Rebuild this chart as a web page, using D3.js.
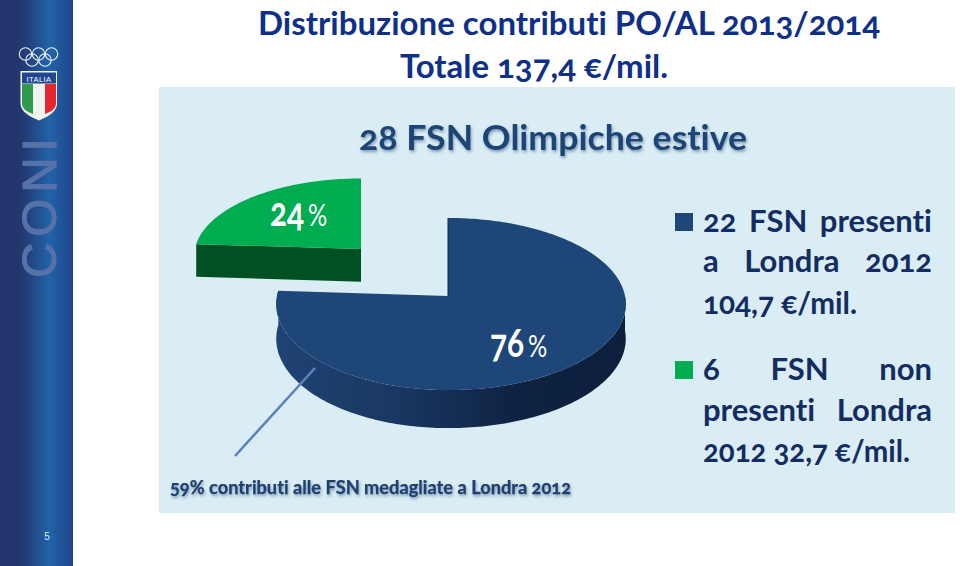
<!DOCTYPE html>
<html>
<head>
<meta charset="utf-8">
<script src="https://cdnjs.cloudflare.com/ajax/libs/d3/7.8.5/d3.min.js"></script>
<style>
html, body { margin: 0; padding: 0; background: #fff; }
svg { display: block; }
text { font-family: Lato, "Open Sans", sans-serif; font-variant-numeric: oldstyle-nums; font-feature-settings: "onum", "liga" 0, "clig" 0; font-variant-ligatures: none; }
</style>
</head>
<body>
<script>
// data
var sliceNames = ["22 FSN presenti", "6 FSN non presenti"];
var sliceValues = [76, 24];
var sliceLabels = ["76", "24"];
var titleLines = ["Distribuzione contributi PO/AL 2013/2014", "Totale 137,4 €/mil."];
var subtitle = "28 FSN Olimpiche estive";
var note = "59% contributi alle FSN medagliate a Londra 2012";
var legendBlue = [["22", "FSN", "presenti"], ["a", "Londra", "2012"], ["104,7 €/mil."]];
var legendGreen = [["6", "FSN", "non"], ["presenti", "Londra"], ["2012 32,7 €/mil."]];

var width = 960, height = 566;
var svg = d3.select("body").append("svg").attr("width", width).attr("height", height);
var defs = svg.append("defs");

function gradient(id, stops) {
    var g = defs.append("linearGradient").attr("id", id)
        .attr("x1", 0).attr("x2", 1).attr("y1", 0).attr("y2", 0);
    stops.forEach((s) => {
        g.append("stop").attr("offset", s[0]).attr("stop-color", s[1]);
    });
}
gradient("side", [[0, "#23346a"], [0.3, "#23386f"], [0.68, "#2163a8"], [1, "#214489"]]);
gradient("wall", [[0, "#1f4374"], [0.35, "#193761"], [0.7, "#0e2242"], [1, "#0c1f3d"]]);

var blur = defs.append("filter").attr("id", "soft").attr("x", "-10%").attr("y", "-30%").attr("width", "120%").attr("height", "170%");
blur.append("feDropShadow").attr("dx", 1).attr("dy", 2).attr("stdDeviation", 1.5).attr("flood-color", "#3a5a80").attr("flood-opacity", 0.55);

// sidebar
svg.append("rect").attr("width", 73).attr("height", height).attr("fill", "url(#side)");
svg.append("text").attr("x", 47).attr("y", 540).attr("text-anchor", "middle")
    .attr("font-size", 10).style("font-family", "Liberation Sans").attr("fill", "#dfe8f4").text("5");

// rings
var rings = [[25.5, 54], [38.5, 54], [51.5, 54], [32, 60], [45, 60]];
svg.selectAll("circle.ring").data(rings).enter().append("circle")
    .attr("class", "ring").attr("cx", (d) => d[0]).attr("cy", (d) => d[1]).attr("r", 6.2)
    .attr("fill", "none").attr("stroke", "#eef3f8").attr("stroke-width", 1.1);

// shield
var shield = svg.append("g");
shield.append("path").attr("d", "M20.5,71 H57 V104 Q57,113 39,120.5 Q20.5,113 20.5,104 Z").attr("fill", "#f1f3f1");
shield.append("rect").attr("x", 22).attr("y", 72.5).attr("width", 34).attr("height", 11).attr("fill", "#21478f");
shield.append("path").attr("d", "M22,84 H33 V114 Q22,110 22,104 Z").attr("fill", "#2f9a4d");
shield.append("path").attr("d", "M45,84 H56 V104 Q56,110 45,114 Z").attr("fill", "#e8262d");
shield.append("text").attr("x", 39).attr("y", 81.5).attr("text-anchor", "middle").attr("font-size", 7.5)
    .style("font-family", "Liberation Sans").attr("fill", "#fff").attr("letter-spacing", 0.4).text("ITALIA");

svg.append("text").attr("transform", "translate(56,278) rotate(-90)")
    .attr("font-size", 49).attr("textLength", 140)
    .style("font-family", "Liberation Sans").attr("fill", "#5672a9").attr("stroke", "#5672a9").attr("stroke-width", 1.2).text("CONI");

// panel
svg.append("rect").attr("x", 159).attr("y", 87).attr("width", 796).attr("height", 426).attr("fill", "#daedf4");

// titles
function fitted(x, y, size, len, str, fill) {
    return svg.append("text").attr("x", x).attr("y", y).attr("font-size", size).attr("font-weight", 700)
        .attr("textLength", len).attr("lengthAdjust", "spacingAndGlyphs").attr("fill", fill).text(str);
}
fitted(258, 35, 32, 622, titleLines[0], "#0e2f8a");
fitted(400, 78, 32, 268, titleLines[1], "#0e2f8a");
fitted(359, 150, 35, 388, subtitle, "#1f4477").attr("filter", "url(#soft)");

// pie
var pie = d3.pie().sort(null).value((d) => d);
var arcs = pie(sliceValues);

var cx = 448, cy = 296, k = 0.093;
var rxMain = d3.scaleLinear().domain([-1, 0, 1]).range([-171, 0, 177]);
var rxGreen = d3.scaleLinear().domain([-1, 0, 1]).range([-175, 0, 175]);
var ry = d3.scaleLinear().domain([0, 1]).range([0, 85.3]);
var depth = 34.5;

// disc coordinates to screen, with a small perspective toward the viewer
function project(u, v, off, drop) {
    var s = 1 / (1 - k * (off.v + v));
    return [cx + off.x + off.rx(u) * s, cy + ry(off.v + v) * s + (drop ? depth * s : 0)];
}
function rim(a, off, drop) {
    return project(Math.sin(a), -Math.cos(a), off, drop);
}
function arcPoints(a0, a1, off, drop) {
    var n = Math.ceil(Math.abs(a1 - a0) / 0.02);
    return d3.range(n + 1).map((i) => rim(a0 + (a1 - a0) * i / n, off, drop));
}
var line = d3.line();
var mainOff = {v: 0, x: 0, rx: rxMain};
var greenOff = {v: -0.581, x: -87, rx: rxGreen};

// blue slice, wall first
var blue = arcs[0];
var blueWall = arcPoints(blue.endAngle, Math.PI / 2, mainOff, false);
var wallPts = blueWall.concat(arcPoints(Math.PI / 2, blue.endAngle, mainOff, true));
svg.append("path").attr("d", line(wallPts) + "Z").attr("fill", "url(#wall)");
var blueApex = project(0, 0, mainOff, false);
var bluePts = [blueApex].concat(arcPoints(blue.startAngle, blue.endAngle, mainOff, false));
svg.append("path").attr("d", line(bluePts) + "Z").attr("fill", "#1f4679");
svg.append("path").attr("d", line([blueApex, rim(0, mainOff, false)]))
    .attr("stroke", "#12294c").attr("stroke-width", 1).attr("fill", "none");

// green slice, exploded
var green = arcs[1];
var gApex = project(0, 0, greenOff, false);
var gTip = rim(green.startAngle, greenOff, false);
var gApexLow = project(0, 0, greenOff, true);
var gTipLow = rim(green.startAngle, greenOff, true);
svg.append("path").attr("d", line([gTip, gApex, gApexLow, gTipLow]) + "Z").attr("fill", "#015022");
var greenPts = [gApex].concat(arcPoints(green.startAngle, green.endAngle, greenOff, false));
svg.append("path").attr("d", line(greenPts) + "Z").attr("fill", "#00ac50");

// slice labels, bold digits with a thin percent sign, squeezed to the narrow original face
function sliceLabel(x, y, str) {
    svg.append("text").attr("transform", "translate(" + x + "," + y + ") scale(0.77,1)")
        .attr("font-size", 41).attr("font-weight", 700).attr("fill", "#fff").text(str);
    svg.append("text").attr("transform", "translate(" + (x + 38) + "," + y + ") scale(0.8,1)")
        .attr("font-size", 30).attr("font-weight", 400).attr("fill", "#fff").text("%");
}
sliceLabel(490, 357, sliceLabels[0]);
sliceLabel(270, 226, sliceLabels[1]);

// leader and note
svg.append("line").attr("x1", 315).attr("y1", 368).attr("x2", 235).attr("y2", 456)
    .attr("stroke", "#5b82bd").attr("stroke-width", 2.6);
fitted(170, 494, 18, 401, note, "#1f3f70").attr("filter", "url(#soft)").attr("stroke", "#1f3f70").attr("stroke-width", 0.25);

// legend, justified lines
var legendX0 = 703, legendX1 = 932;
function legendLine(words, y, len) {
    var nodes = words.map((w) => svg.append("text").attr("y", y).attr("font-size", 31).attr("font-weight", 700)
        .attr("fill", "#132c62").text(w));
    if (words.length === 1) {
        nodes[0].attr("x", legendX0).attr("textLength", len).attr("lengthAdjust", "spacingAndGlyphs");
        return;
    }
    var widths = nodes.map((n) => n.node().getComputedTextLength());
    var gap = (legendX1 - legendX0 - d3.sum(widths)) / (words.length - 1);
    var x = legendX0;
    nodes.forEach((n, i) => {
        n.attr("x", x);
        x += widths[i] + gap;
    });
}
legendLine(legendBlue[0], 232);
legendLine(legendBlue[1], 272);
legendLine(legendBlue[2], 314, 154);
legendLine(legendGreen[0], 380);
legendLine(legendGreen[1], 421);
legendLine(legendGreen[2], 462, 207);
svg.append("rect").attr("x", 675).attr("y", 213).attr("width", 18).attr("height", 18).attr("fill", "#1f4679");
svg.append("rect").attr("x", 675).attr("y", 361).attr("width", 18).attr("height", 18).attr("fill", "#00ac50");
</script>
</body>
</html>
